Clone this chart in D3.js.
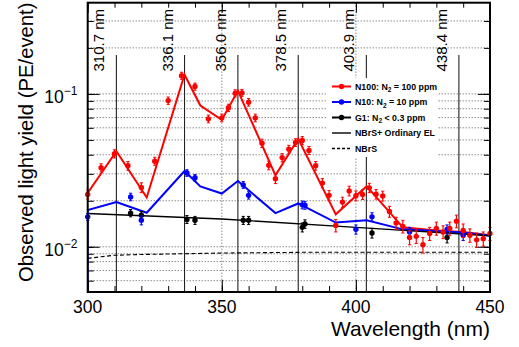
<!DOCTYPE html>
<html><head><meta charset="utf-8">
<script src="https://cdn.jsdelivr.net/npm/d3@7"></script>
<style>
body{margin:0;background:#fff}
svg{display:block}
text{font-family:'Liberation Sans',Arial,Helvetica,sans-serif;fill:#000}
</style>
</head><body>
<svg id="c" width="519" height="347"></svg>
<script>
// ---------------- data ----------------
const xTickValues = [300, 350, 400, 450];
const yMajorTicks = [0.01, 0.1];
const yTickExponents = ["\u22122", "\u22121"];
const transitionWl = [310.7, 336.1, 356.0, 378.5, 403.9, 438.4];
const transitionLabels = ["310.7 nm", "336.1 nm", "356.0 nm", "378.5 nm", "403.9 nm", "438.4 nm"];

// N100 data (N2 = 100 ppm)
const n100Wl  = [300,305,310,315,320,325,330,335,340,345,350,352.5,355,357.5,360,362.5,365,367.5,370,372.5,375,377.5,380,382.5,385,387.5,390,392.5,395,397.5,400,402.5,405,407.5,410,412.5,415,417.5,420,422.5,425,427.5,430,432.5,435,437.5,440,442.5,445,447.5,450];
const n100Val = [0.0220,0.0329,0.0406,0.0339,0.0244,0.0363,0.0904,0.1316,0.1117,0.0687,0.0697,0.0811,0.1010,0.1015,0.0882,0.0697,0.0476,0.0341,0.0279,0.0383,0.0435,0.0481,0.0496,0.0427,0.0339,0.0261,0.0217,0.0138,0.0196,0.0232,0.0216,0.0220,0.0243,0.0221,0.0215,0.0170,0.0143,0.0136,0.0115,0.0117,0.0103,0.0122,0.0132,0.0125,0.0132,0.0147,0.0128,0.0119,0.0111,0.0113,0.0122];
const n100Err = [0.0015,0.0020,0.0025,0.0022,0.0018,0.0022,0.0050,0.0070,0.0060,0.0040,0.0040,0.0045,0.0055,0.0055,0.0050,0.0040,0.0030,0.0022,0.0020,0.0024,0.0026,0.0028,0.0030,0.0026,0.0022,0.0018,0.0016,0.0013,0.0015,0.0017,0.0016,0.0016,0.0017,0.0016,0.0016,0.0014,0.0013,0.0013,0.0012,0.0012,0.0012,0.0012,0.0013,0.0012,0.0013,0.0014,0.0013,0.0012,0.0012,0.0012,0.0012];

// N10 data (N2 = 10 ppm)
const n10Wl  = [300,316,320,337,340,358,360,380,381,400,406,420,434,440];
const n10Val = [0.0157,0.0212,0.0149,0.0304,0.0283,0.0254,0.0217,0.0188,0.0187,0.0130,0.0157,0.0125,0.0130,0.0119];
const n10Err = [0.0008,0.0012,0.0010,0.0015,0.0014,0.0013,0.0012,0.0011,0.0011,0.0009,0.0010,0.0009,0.0009,0.0009];

// G1 data (N2 < 0.3 ppm)
const g1Wl  = [316,320,337,340,358,360,380,381,406,434];
const g1Val = [0.0166,0.0161,0.0151,0.0149,0.0149,0.0149,0.0134,0.0141,0.0123,0.0115];
const g1Err = [0.0009,0.0009,0.0009,0.0009,0.0009,0.0009,0.0009,0.0009,0.0009,0.0009];

// model curves
const n100ModelWl  = [300,310.7,322,336.1,342,350,356,370,378.5,392.5,404,417.5,430,440,450];
const n100Model    = [0.0225,0.0422,0.0210,0.1336,0.0839,0.0676,0.1050,0.0293,0.0509,0.0163,0.0249,0.0134,0.0128,0.0125,0.0119];
const n10ModelWl   = [300,300,310.7,322,336.1,342,350,356,370,378.5,392.5,404,417.5,430,440,450];
const n10Model     = [0.001,0.0174,0.0196,0.0167,0.0313,0.0248,0.0223,0.0269,0.0166,0.0192,0.0144,0.0149,0.0130,0.0127,0.0124,0.0118];
const g1ModelWl    = [300,350,400,450];
const g1Model      = [0.0165,0.0152,0.0134,0.0118];
const nbrsWl       = [300,305,310,320,335,350,380,410,450];
const nbrsModel    = [0.0084,0.0086,0.0088,0.0089,0.0090,0.0091,0.0092,0.0092,0.0092];

const legendPre  = ["N100: N", "N10: N", "G1: N", "NBrS+ Ordinary EL", "NBrS"];
const legendSub  = ["2", "2", "2", "", ""];
const legendPost = [" = 100 ppm", " = 10 ppm", " < 0.3 ppm", "", ""];

// ---------------- layout ----------------
const P = {left: 87.7, right: 490, top: 2.7, bottom: 292};
const RED = "#ff0000", BLUE = "#0000ff", BLACK = "#000000";
const svg = d3.select("#c");
const x = d3.scaleLinear().domain([300, 450]).range([P.left, P.right]);
const y = d3.scaleLog().domain([0.00506, 0.395]).range([P.bottom, P.top]);

svg.append("defs").append("clipPath").attr("id", "clip")
  .append("rect").attr("x", P.left).attr("y", P.top)
  .attr("width", P.right - P.left).attr("height", P.bottom - P.top);

// grid
const yMinor = [];
for (let e = -3; e <= 0; e++) for (let m = 1; m <= 9; m++) {
  const v = m * Math.pow(10, e);
  if (v > y.domain()[0] && v < y.domain()[1]) yMinor.push(v);
}
const grid = svg.append("g").attr("stroke", "#444").attr("stroke-width", 0.9).attr("stroke-dasharray", "1,2");
grid.selectAll("line.h").data(yMinor).join("line")
  .attr("x1", P.left).attr("x2", P.right)
  .attr("y1", d => y(d)).attr("y2", d => y(d));
grid.selectAll("line.v").data(xTickValues.filter(d => d > 300 && d < 450)).join("line")
  .attr("y1", P.top).attr("y2", P.bottom)
  .attr("x1", d => x(d)).attr("x2", d => x(d));

// legend background box (hides grid)
const LG = {x: 327, y: 78, w: 110, h: 79};
svg.append("rect").attr("x", LG.x).attr("y", LG.y).attr("width", LG.w).attr("height", LG.h).attr("fill", "#fff");

// transition lines
svg.append("g").selectAll("line").data(transitionWl).join("line")
  .attr("x1", d => x(d)).attr("x2", d => x(d))
  .attr("y1", 55).attr("y2", P.bottom)
  .attr("stroke", "#222").attr("stroke-width", 1.1);
svg.append("rect").attr("x", LG.x).attr("y", LG.y).attr("width", LG.w).attr("height", LG.h).attr("fill", "#fff");

svg.append("g").selectAll("text").data(transitionWl).join("text")
  .attr("transform", d => `translate(${x(d) - 12},71.5) rotate(-90)`)
  .attr("font-size", 15).attr("text-anchor", "start")
  .text((d, i) => transitionLabels[i]);

// model curves
const clipG = svg.append("g").attr("clip-path", "url(#clip)");
const line = d3.line().x(d => x(d[0])).y(d => y(d[1]));
const zip = (a, b) => a.map((v, i) => [v, b[i]]);
clipG.append("path").datum(zip(nbrsWl, nbrsModel)).attr("d", line)
  .attr("fill", "none").attr("stroke", BLACK).attr("stroke-width", 1.1).attr("stroke-dasharray", "4,2.5");
clipG.append("path").datum(zip(n100ModelWl, n100Model)).attr("d", line)
  .attr("fill", "none").attr("stroke", RED).attr("stroke-width", 2);
clipG.append("path").datum(zip(n10ModelWl, n10Model)).attr("d", line)
  .attr("fill", "none").attr("stroke", BLUE).attr("stroke-width", 2);
clipG.append("path").datum(zip(g1ModelWl, g1Model)).attr("d", line)
  .attr("fill", "none").attr("stroke", BLACK).attr("stroke-width", 1.4);

// data points with error bars
function drawSeries(wl, val, err, color) {
  const g = svg.append("g");
  const pts = wl.map((w, i) => ({w, v: val[i], e: err[i]}));
  g.selectAll("line.eb").data(pts).join("line")
    .attr("x1", d => x(d.w)).attr("x2", d => x(d.w))
    .attr("y1", d => y(d.v + d.e)).attr("y2", d => y(d.v - d.e))
    .attr("stroke", color).attr("stroke-width", 1.2);
  ["+", "-"].forEach(s => {
    g.selectAll("line.cap" + (s === "+" ? "u" : "d")).data(pts).join("line")
      .attr("x1", d => x(d.w) - 1.6).attr("x2", d => x(d.w) + 1.6)
      .attr("y1", d => y(s === "+" ? d.v + d.e : d.v - d.e))
      .attr("y2", d => y(s === "+" ? d.v + d.e : d.v - d.e))
      .attr("stroke", color).attr("stroke-width", 1);
  });
  g.selectAll("circle").data(pts).join("circle")
    .attr("cx", d => x(d.w)).attr("cy", d => y(d.v)).attr("r", 2.7).attr("fill", color);
}
drawSeries(g1Wl, g1Val, g1Err, BLACK);
drawSeries(n10Wl, n10Val, n10Err, BLUE);
drawSeries(n100Wl, n100Val, n100Err, RED);

// axes ticks
const ax = svg.append("g").attr("stroke", "#000").attr("stroke-width", 1);
const xMinor = d3.range(300, 451, 10);
function addAxis(axisGen, transform) {
  const g = svg.append("g").attr("transform", transform).call(axisGen);
  g.select(".domain").remove();
  g.selectAll("text").remove();
  g.selectAll("line").attr("stroke", "#000").attr("stroke-width", 1);
}
addAxis(d3.axisBottom(x).tickValues(xMinor).tickSize(-6), `translate(0,${P.bottom})`);
addAxis(d3.axisBottom(x).tickValues(xTickValues).tickSize(-12), `translate(0,${P.bottom})`);
addAxis(d3.axisTop(x).tickValues(xMinor).tickSize(-5), `translate(0,${P.top})`);
addAxis(d3.axisTop(x).tickValues(xTickValues).tickSize(-10), `translate(0,${P.top})`);
addAxis(d3.axisLeft(y).tickValues(yMinor).tickSize(-6), `translate(${P.left},0)`);
addAxis(d3.axisLeft(y).tickValues(yMajorTicks).tickSize(-12), `translate(${P.left},0)`);
addAxis(d3.axisRight(y).tickValues(yMinor).tickSize(-6), `translate(${P.right},0)`);
addAxis(d3.axisRight(y).tickValues(yMajorTicks).tickSize(-12), `translate(${P.right},0)`);

// frame
svg.append("rect").attr("x", P.left).attr("y", P.top)
  .attr("width", P.right - P.left).attr("height", P.bottom - P.top)
  .attr("fill", "none").attr("stroke", "#000").attr("stroke-width", 2);

// tick labels
svg.append("g").selectAll("text").data(xTickValues).join("text")
  .attr("x", d => x(d)).attr("y", 313).attr("text-anchor", "middle")
  .attr("font-size", 17.5).text(d => d);
const yl = svg.append("g").selectAll("text").data(yMajorTicks).join("text")
  .attr("x", 77.5).attr("y", d => y(d) + 9).attr("text-anchor", "end").attr("font-size", 17.5);
yl.append("tspan").text("10");
yl.append("tspan").attr("dy", -8).attr("font-size", 12).text((d, i) => yTickExponents[i]);

// axis titles
svg.append("text").attr("x", P.right).attr("y", 336).attr("text-anchor", "end")
  .attr("font-size", 21).text("Wavelength (nm)");
svg.append("text").attr("transform", `translate(33,2.5) rotate(-90)`).attr("text-anchor", "end")
  .attr("font-size", 20.3).text("Observed light yield (PE/event)");

// legend
const legendColors = [RED, BLUE, BLACK, BLACK, BLACK];
const legendMarker = [true, true, true, false, false];
const legendDash = [null, null, null, null, "3,2"];
const rowY = d => 86.5 + d * 15.5;
const lg = svg.append("g");
legendPre.forEach((t, i) => {
  const yy = rowY(i);
  lg.append("line").attr("x1", 332).attr("x2", 351).attr("y1", yy).attr("y2", yy)
    .attr("stroke", legendColors[i]).attr("stroke-width", legendMarker[i] ? 2 : 1.4)
    .attr("stroke-dasharray", legendDash[i]);
  if (legendMarker[i]) lg.append("circle").attr("cx", 341.5).attr("cy", yy).attr("r", 2.7).attr("fill", legendColors[i]);
  const tx = lg.append("text").attr("x", 355).attr("y", yy + 3.2)
    .attr("font-size", 8.8).attr("font-weight", "bold");
  tx.append("tspan").text(t);
  if (legendSub[i]) {
    tx.append("tspan").attr("dy", 2.5).attr("font-size", 6.5).text(legendSub[i]);
    tx.append("tspan").attr("dy", -2.5).text(legendPost[i]);
  }
});
</script>
</body></html>
